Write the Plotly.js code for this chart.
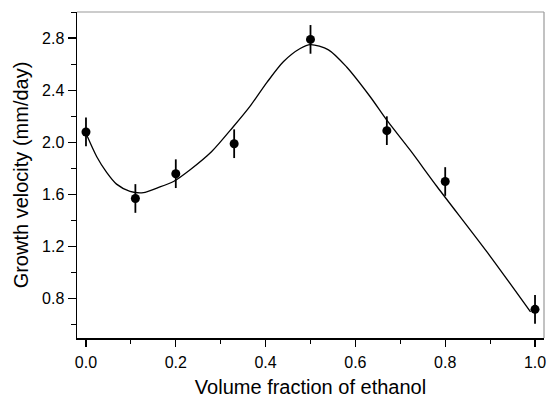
<!DOCTYPE html>
<html>
<head>
<meta charset="utf-8">
<script src="https://cdn.plot.ly/plotly-3.0.1.min.js"></script>
<style>html,body{margin:0;padding:0;background:#fff}#chart{width:548px;height:398px}</style>
</head>
<body>
<div id="chart"></div>
<script>
// Measured data points
const fraction = [0.0, 0.11, 0.2, 0.33, 0.5, 0.67, 0.8, 1.0];
const velocity = [2.08, 1.57, 1.76, 1.99, 2.79, 2.09, 1.70, 0.72];
const velocityErr = [0.11, 0.11, 0.11, 0.11, 0.11, 0.11, 0.11, 0.11];

// Fitted curve
const fitX = [0.0, 0.024, 0.046, 0.068, 0.098, 0.128, 0.158, 0.195, 0.232, 0.28, 0.328, 0.366, 0.403, 0.44, 0.477, 0.50, 0.54, 0.58, 0.633, 0.67, 0.722, 0.782, 0.893, 0.99];
const fitY = [2.07, 1.89, 1.77, 1.68, 1.625, 1.615, 1.65, 1.70, 1.79, 1.93, 2.12, 2.28, 2.46, 2.62, 2.72, 2.75, 2.71, 2.58, 2.35, 2.17, 1.94, 1.66, 1.16, 0.70];

const xTickVals = [0, 0.2, 0.4, 0.6, 0.8, 1.0];
const yTickVals = [0.8, 1.2, 1.6, 2.0, 2.4, 2.8];

const font = "'Liberation Sans', Arial, sans-serif";

const traces = [
  {
    x: fitX, y: fitY, type: 'scatter', mode: 'lines',
    line: {color: '#000', width: 1.3, shape: 'spline', smoothing: 0.8},
    hoverinfo: 'skip', showlegend: false
  },
  {
    x: fraction, y: velocity, type: 'scatter', mode: 'markers',
    marker: {color: '#000', size: 9, symbol: 'circle'},
    error_y: {type: 'data', array: velocityErr, visible: true, color: '#000', thickness: 1.8, width: 0},
    showlegend: false
  }
];

const layout = {
  width: 548, height: 398,
  margin: {l: 77, r: 4, t: 12, b: 60},
  paper_bgcolor: '#fff', plot_bgcolor: '#fff',
  font: {family: font, color: '#000', size: 15},
  xaxis: {
    range: [-0.02, 1.02],
    tickvals: xTickVals, tickformat: '.1f',
    ticks: 'outside', ticklen: 7, tickwidth: 1.2, tickcolor: '#000',
    ticklabelstandoff: 2,
    minor: {dtick: 0.1, tick0: 0, ticks: 'outside', ticklen: 4, tickwidth: 1, tickcolor: '#000'},
    showgrid: false, zeroline: false,
    showline: true, linecolor: '#000', linewidth: 1.5,
    tickfont: {size: 16, family: font},
    title: {text: 'Volume fraction of ethanol', font: {size: 20, family: font}, standoff: 14}
  },
  yaxis: {
    range: [0.5, 3.0],
    tickvals: yTickVals, tickformat: '.1f',
    ticks: 'outside', ticklen: 8, tickwidth: 1.2, tickcolor: '#000',
    minor: {dtick: 0.2, tick0: 0.6, ticks: 'outside', ticklen: 5, tickwidth: 1, tickcolor: '#000'},
    showgrid: false, zeroline: false,
    showline: true, linecolor: '#000', linewidth: 1.5,
    tickfont: {size: 16, family: font},
    title: {text: 'Growth velocity (mm/day)', font: {size: 20, family: font}, standoff: 8}
  },
  shapes: [
    {type: 'line', xref: 'paper', yref: 'paper', x0: 0, x1: 1, y0: 1, y1: 1, line: {color: '#999', width: 1.2}},
    {type: 'line', xref: 'paper', yref: 'paper', x0: 1, x1: 1, y0: 0, y1: 1, line: {color: '#999', width: 1.2}}
  ]
};

Plotly.newPlot('chart', traces, layout, {displayModeBar: false, staticPlot: true});
</script>
</body>
</html>
